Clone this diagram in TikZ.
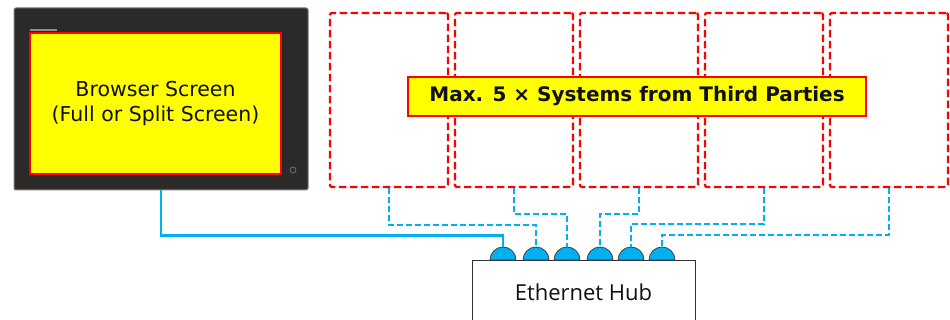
\documentclass[tikz,border=0pt]{standalone}
\usepackage{fontspec}
\setmainfont{DejaVu Sans}
\newfontfamily\hubfont{Open Sans}
\usetikzlibrary{calc}
\definecolor{ethblue}{HTML}{00B0F0}
\definecolor{monfill}{HTML}{2B2A28}
\definecolor{monedge}{HTML}{7A7A7A}
\definecolor{txtdark}{HTML}{111111}
\definecolor{pureyellow}{RGB}{255,255,0}
\tikzset{
  sysbox/.style={draw=red, line width=2.3pt, dash pattern=on 7.5pt off 3.5pt, rounded corners=2pt,
    minimum width=118pt, minimum height=174pt, inner sep=0pt},
  labelbox/.style={draw=red, line width=2pt, fill=pureyellow, minimum width=458pt, minimum height=39pt,
    inner sep=0pt, font=\bfseries\fontsize{20}{22}\selectfont, text=txtdark},
  monitor/.style={draw=monedge, line width=1pt, fill=monfill, rounded corners=2pt,
    minimum width=294pt, minimum height=182pt, inner sep=0pt},
  screen/.style={draw=red, line width=1.5pt, fill=pureyellow, minimum width=251pt, minimum height=141pt,
    inner sep=0pt, align=center, font=\fontsize{20.5}{25}\selectfont, text=txtdark},
  hubbox/.style={draw=black!80, line width=1pt, fill=white, minimum width=223pt, minimum height=80pt,
    inner sep=0pt},
  port/.style={draw=black!75, line width=0.8pt, fill=ethblue},
  ethsolid/.style={draw=ethblue, line width=2.2pt},
  ethdash/.style={draw=ethblue, line width=2pt, dash pattern=on 6pt off 3pt},
}
\begin{document}
\begin{tikzpicture}[x=1pt,y=-1pt]
\useasboundingbox (0,0) rectangle (950,320);
% monitor
\node[monitor] (mon) at (161,99) {};
\node[screen] (scr) at (155.5,103.5) {Browser Screen\\(Full or Split Screen)};
\fill[black!45] (30,29.5) rectangle (57,31) node[coordinate] (logo) {};
\node[draw=black!55, line width=0.8pt, circle, minimum size=6pt, inner sep=0pt] (btn) at (293,170) {};
% third-party boxes
\foreach \i/\x in {1/389,2/514,3/639,4/764,5/889}{
  \node[sysbox] (b\i) at (\x,100) {};
}
\node[labelbox] (lab) at (637,96.5) {Max. 5 × Systems from Third Parties};
% hub
\node[hubbox, anchor=north] (hub) at (583.5,260) {};
\node[font=\hubfont\fontsize{22}{24}\selectfont, text=txtdark] (hubtxt) at (583.5,292) {Ethernet Hub};
% ports
\foreach \i/\x in {1/503,2/536,3/567,4/600,5/631,6/662}{
  \draw[port] (\x-13,260) arc (180:360:13) -- cycle;
  \coordinate (p\i) at (\x,247);
}
% cables
\draw[ethsolid] (mon.south) -- ++(0,45) -| (p1);
\draw[ethdash] (b1.south) -- ++(0,37) -| (p2);
\draw[ethdash] (b2.south) -- ++(0,26) -| (p3);
\draw[ethdash] (b3.south) -- ++(0,26) -| (p4);
\draw[ethdash] (b4.south) -- ++(0,36) -| (p5);
\draw[ethdash] (b5.south) -- ++(0,47) -| (p6);
\end{tikzpicture}
\end{document}
